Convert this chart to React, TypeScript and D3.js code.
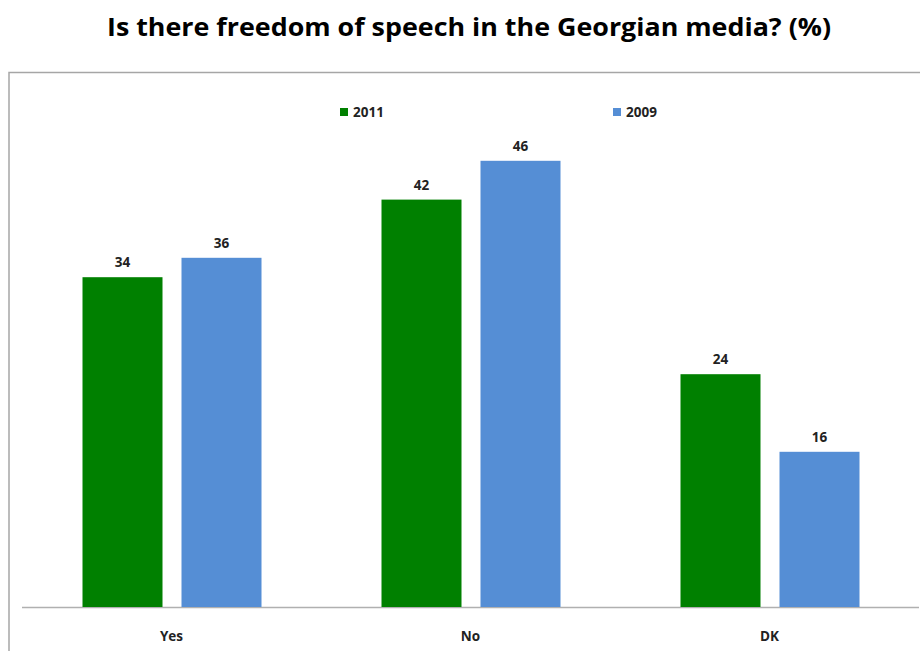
import React from "react";
import * as d3 from "d3";

const categories = ["Yes", "No", "DK"];
const seriesNames = ["2011", "2009"];
const values2011 = [34, 42, 24];
const values2009 = [36, 46, 16];
const colors = ["#008000", "#558ED5"];

export default function App() {
  const W = 920, H = 651;
  const x = d3.scaleBand<string>().domain(categories).range([22, 919]);
  const y = d3.scaleLinear().domain([0, 50]).range([607, 122]);
  const series = [values2011, values2009];
  const barW = 80;
  const offsets = [-89, 10];
  const font = "'Open Sans', 'Liberation Sans', sans-serif";
  return (
    <svg width={W} height={H} style={{ position: "absolute", left: 0, top: 0 }}>
      <rect width={W} height={H} fill="#fff" />
      <text x={107} y={36} textLength={724} lengthAdjust="spacingAndGlyphs" fontFamily={font} fontWeight="bold" fontSize={25} fill="#000">
        Is there freedom of speech in the Georgian media? (%)
      </text>
      <path d={`M9,660 V72.5 H930`} fill="none" stroke="#a6a6a6" strokeWidth={1.5} />
      <line x1={22} x2={919} y1={607.5} y2={607.5} stroke="#b0b0b0" strokeWidth={1.5} />
      {series.map((vals, si) =>
        categories.map((c, i) => {
          const cx = x(c)! + x.bandwidth() / 2;
          const bx = cx + offsets[si];
          return (
            <g key={`${si}-${i}`}>
              <rect x={bx} y={y(vals[i])} width={barW} height={y(0) - y(vals[i])} fill={colors[si]} />
              <text x={bx + barW / 2} y={y(vals[i]) - 10} textAnchor="middle" fontFamily={font} fontWeight="bold" fontSize={13.5} fill="#222">
                {vals[i]}
              </text>
            </g>
          );
        })
      )}
      {categories.map((c) => (
        <text key={c} x={x(c)! + x.bandwidth() / 2} y={641} textAnchor="middle" fontFamily={font} fontWeight="bold" fontSize={13.5} fill="#222">
          {c}
        </text>
      ))}
      {seriesNames.map((s, i) => {
        const lx = [340, 613][i];
        return (
          <g key={s}>
            <rect x={lx} y={108} width={8} height={8} fill={colors[i]} />
            <text x={lx + 13} y={117} fontFamily={font} fontWeight="bold" fontSize={13.5} fill="#222">{s}</text>
          </g>
        );
      })}
    </svg>
  );
}
